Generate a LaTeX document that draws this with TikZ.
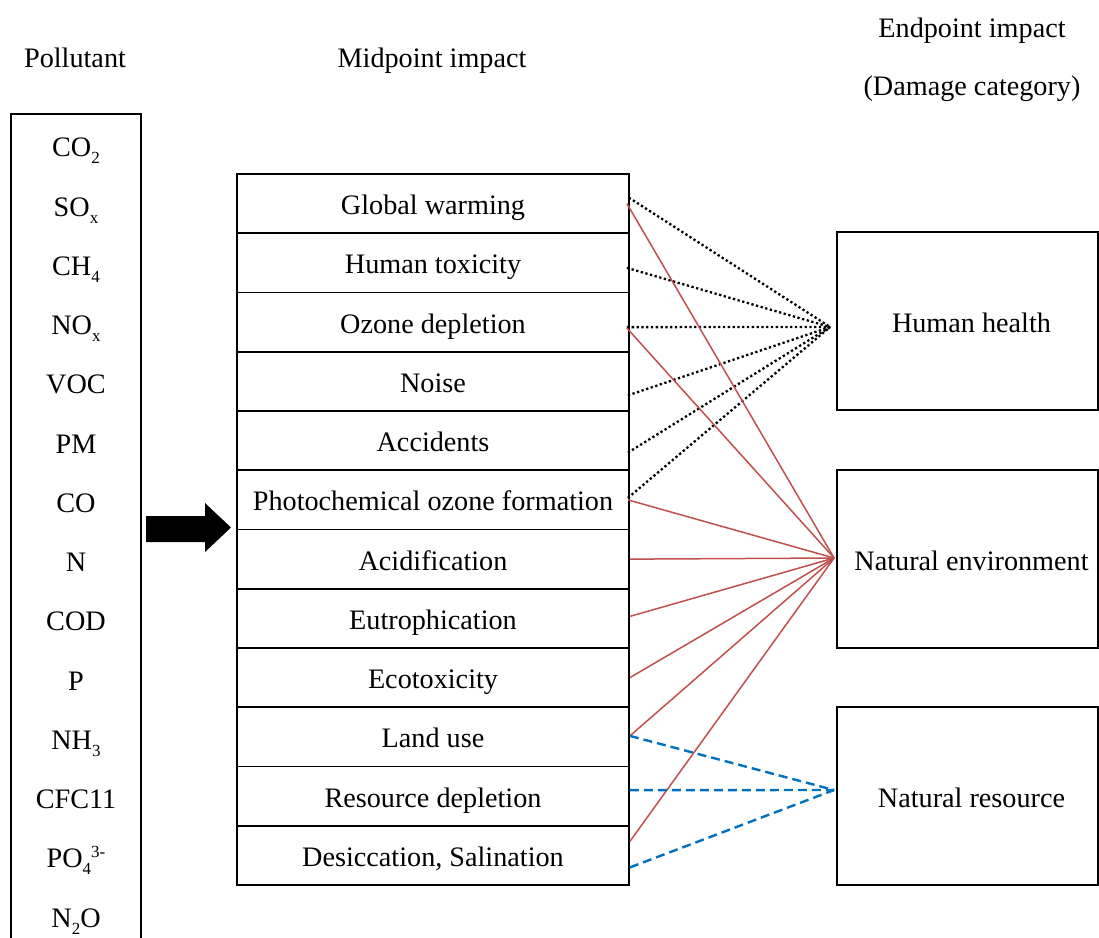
\documentclass[tikz,border=0pt]{standalone}
\usepackage{fontspec}
\setmainfont{Liberation Serif}
\usetikzlibrary{calc}
\definecolor{redline}{RGB}{192,80,77}
\definecolor{blueline}{RGB}{0,112,192}
\newcommand\lsub[1]{\raisebox{-7pt}{\fontsize{17}{17}\selectfont #1}}
\newcommand\lsup[1]{\raisebox{10pt}{\fontsize{17}{17}\selectfont #1}}
\begin{document}
\begin{tikzpicture}[x=1pt,y=-1pt,
  txt/.style={font=\fontsize{28.2}{30}\selectfont,inner sep=0pt,text height=22pt,text depth=0pt},
  mbox/.style={txt,draw,line width=1.8pt,minimum width=392pt,minimum height=59.25pt},
  ebox/.style={txt,draw,line width=1.8pt,minimum width=261pt,minimum height=178pt},
  hhline/.style={line width=2.3pt,dash pattern=on 2.3pt off 2.5pt},
  neline/.style={line width=1.5pt,redline},
  nrline/.style={line width=2.4pt,blueline,dash pattern=on 9pt off 5pt},
]
\useasboundingbox (0,0) rectangle (1099,937);
\begin{scope}
\clip (0,0) rectangle (1099,937);
% headers
\node[txt] (hpol) at (75,56) {Pollutant};
\node[txt] (hmid) at (432,56) {Midpoint impact};
\node[txt] (hend1) at (972,26) {Endpoint impact};
\node[txt] (hend2) at (972,84) {(Damage category)};
% pollutant box
\draw[line width=1.8pt] (11,960) -- (11,114) -- (141,114) -- (141,960);
\foreach \p [count=\i] in {CO\lsub{2},SO\lsub{x},CH\lsub{4},NO\lsub{x},VOC,PM,CO,N,COD,P,NH\lsub{3},CFC11,PO\lsub{4}\lsup{3-},N\lsub{2}O}
  \node[txt] (p\i) at (76,{145.8+59.25*(\i-1)}) {\p};
% arrow
\fill (146,516) -- (205,516) -- (205,503) -- (231,527.5) -- (205,552) -- (205,542) -- (146,542) -- cycle;
% midpoint boxes
\foreach \t [count=\i] in {Global warming,Human toxicity,Ozone depletion,Noise,Accidents,Photochemical ozone formation,Acidification,Eutrophication,Ecotoxicity,Land use,Resource depletion,{Desiccation, Salination}}
  \node[mbox] (m\i) at (433,{174+59.25*\i-29.625}) {\t};
% endpoint boxes
\node[ebox] (hh) at (967.5,321) {\hspace*{8pt}Human health};
\node[ebox] (ne) at (967.5,559) {\hspace*{8pt}Natural environment};
\node[ebox] (nr) at (967.5,796) {\hspace*{8pt}Natural resource};
\coordinate (hhin) at ($(hh.west)+(-6,6)$);
\coordinate (nein) at ($(ne.west)+(-2,-1)$);
\coordinate (nrin) at ($(nr.west)+(-2,-6)$);
% dotted to human health
\draw[hhline] ($(m1.east)+(-1,-6)$) -- (hhin);
\draw[hhline] ($(m2.east)+(-3,5)$) -- (hhin);
\draw[hhline] ($(m3.east)+(-3,5)$) -- (hhin);
\draw[hhline] ($(m4.east)+(-2,14)$) -- (hhin);
\draw[hhline] ($(m5.east)+(-2,12)$) -- (hhin);
\draw[hhline] ($(m6.east)+(-2,-2)$) -- (hhin);
% red to natural environment
\draw[neline] ($(m1.east)+(-3,0)$) -- (nein);
\draw[neline] ($(m3.east)+(-3,6)$) -- (nein);
\draw[neline] ($(m6.east)+(-2,0)$) -- (nein);
\draw[neline] (m7.east) -- (nein);
\draw[neline] ($(m8.east)+(0,-2)$) -- (nein);
\draw[neline] (m9.east) -- (nein);
\draw[neline] ($(m10.east)+(0,-1)$) -- (nein);
\draw[neline] ($(m12.east)+(0,-14)$) -- (nein);
% blue dashed to natural resource
\draw[nrline] ($(m10.east)+(0,-1)$) -- (nrin);
\draw[nrline] ($(m11.east)+(0,-6)$) -- (nrin);
\draw[nrline] ($(m12.east)+(0,12)$) -- (nrin);
\end{scope}
\end{tikzpicture}
\end{document}
